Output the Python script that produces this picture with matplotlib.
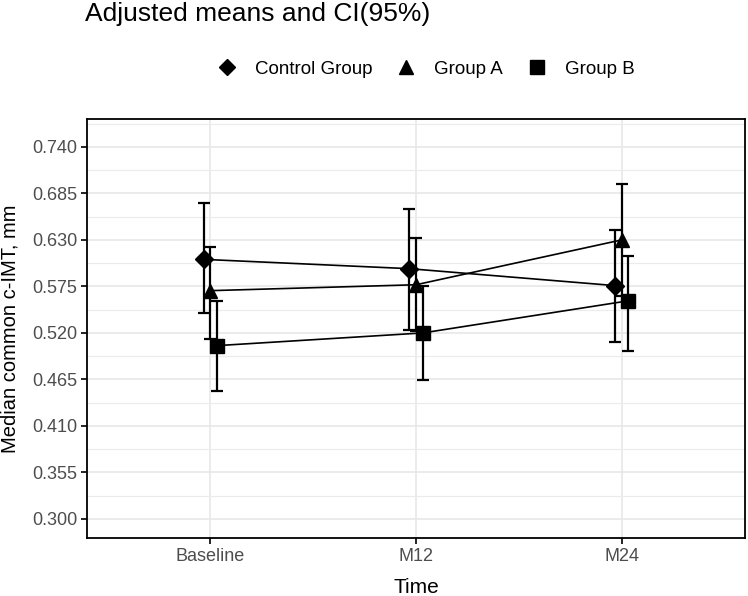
import numpy as np
from matplotlib import pyplot as plt

plt.rcParams["font.family"] = ["Liberation Sans", "DejaVu Sans"]

# Data
time_points = ["Baseline", "M12", "M24"]
groups = ["Control Group", "Group A", "Group B"]
markers = ["D", "^", "s"]

control_mean = [0.607, 0.596, 0.576]
control_low = [0.543, 0.524, 0.509]
control_high = [0.674, 0.666, 0.642]

group_a_mean = [0.570, 0.577, 0.630]
group_a_low = [0.513, 0.522, 0.564]
group_a_high = [0.622, 0.632, 0.696]

group_b_mean = [0.505, 0.520, 0.558]
group_b_low = [0.451, 0.464, 0.499]
group_b_high = [0.558, 0.575, 0.611]

y_ticks = [0.300, 0.355, 0.410, 0.465, 0.520, 0.575, 0.630, 0.685, 0.740]


def plot_means():
    fig = plt.figure(figsize=(7.48, 5.96), dpi=100)
    ax = fig.add_axes([87 / 748, 1 - 538 / 596, 658 / 748, 419 / 596])

    x = np.arange(1, len(time_points) + 1)
    offsets = [-0.033, 0.0, 0.033]
    series = [
        (control_mean, control_low, control_high),
        (group_a_mean, group_a_low, group_a_high),
        (group_b_mean, group_b_low, group_b_high),
    ]
    sizes = [9, 10, 10]
    handles = []
    for (mean, low, high), off, mk, ms, name in zip(series, offsets, markers, sizes, groups):
        mean = np.array(mean)
        err = [mean - np.array(low), np.array(high) - mean]
        ax.errorbar(x + off, mean, yerr=err, fmt="none", ecolor="black",
                    elinewidth=1.6, capsize=4, capthick=1.6, zorder=3)
        ax.plot(x + off, mean, color="black", lw=1.2, zorder=3)
        h, = ax.plot(x + off, mean, linestyle="none", marker=mk, ms=ms,
                     color="black", zorder=4, label=name)
        handles.append(h)

    ax.set_xlim(0.4, 3.6)
    ax.set_ylim(0.2775, 0.773)
    ax.set_xticks(x)
    ax.set_xticklabels(time_points)
    ax.set_yticks(y_ticks)
    ax.set_yticklabels([f"{v:.3f}" for v in y_ticks])
    ax.set_yticks([v + 0.0275 for v in y_ticks], minor=True)
    ax.tick_params(axis="both", which="major", labelsize=13, colors="black",
                   labelcolor="#4d4d4d", length=4, width=1.2, pad=3)
    ax.tick_params(axis="y", which="minor", length=0)
    ax.grid(True, which="major", color="#e6e6e6", lw=1.1)
    ax.grid(True, which="minor", axis="y", color="#ebebeb", lw=0.8)
    ax.set_axisbelow(True)
    for s in ax.spines.values():
        s.set_linewidth(1.3)

    ax.set_xlabel("Time", fontsize=15)
    ax.set_ylabel("Median common c-IMT, mm", fontsize=14.5)
    ax.xaxis.set_label_coords(0.5, -0.096)
    ax.yaxis.set_label_coords(-0.102, 0.5)

    fig.text(85 / 748, 1 - 21 / 596, "Adjusted means and CI(95%)", fontsize=19,
             va="baseline")
    fig.legend(handles=handles, loc="center", bbox_to_anchor=(426 / 748, 1 - 69 / 596),
               ncol=3, frameon=False, fontsize=13.5, handlelength=1.0,
               handletextpad=1.0, columnspacing=1.3, markerscale=0.95)

    fig.savefig("out.png", dpi=100)


if __name__ == "__main__":
    plot_means()
